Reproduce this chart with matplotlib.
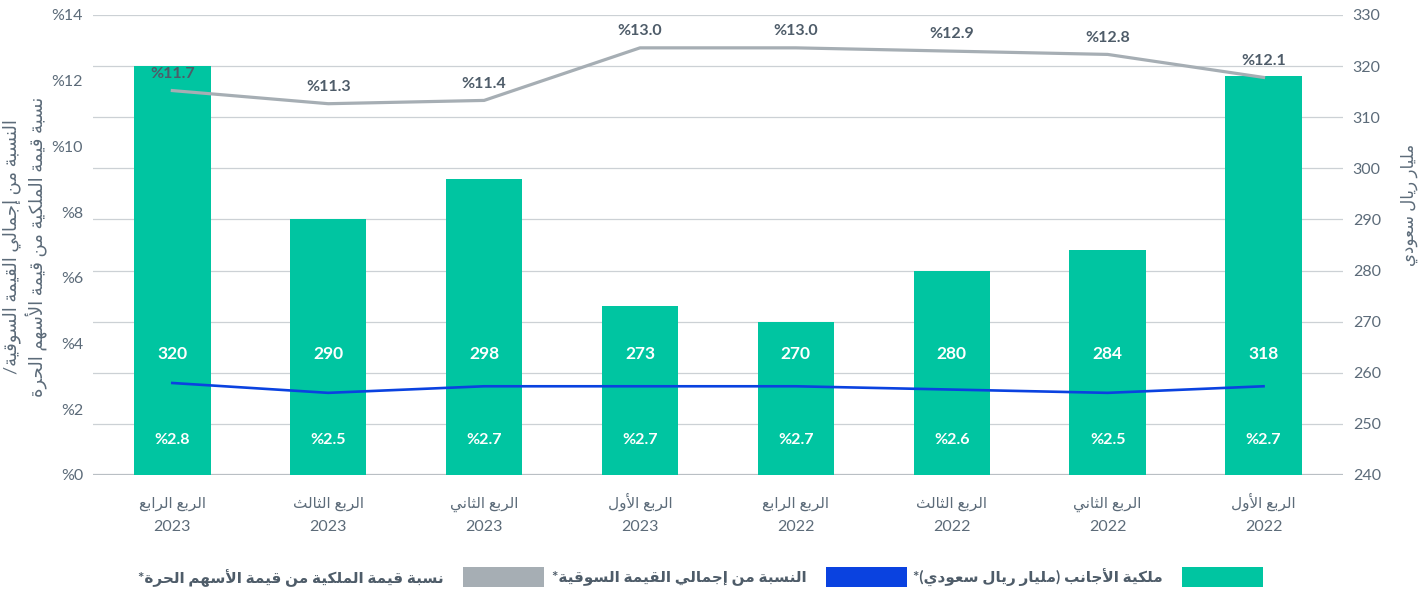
import unicodedata as ud

import matplotlib

matplotlib.use("Agg")
import matplotlib.pyplot as plt
from matplotlib.patches import Rectangle
from matplotlib.transforms import blended_transform_factory

plt.rcParams["font.family"] = ["Lato", "DejaVu Sans"]

# data, in the order shown from left to right
quarters = ["الربع الرابع", "الربع الثالث", "الربع الثاني", "الربع الأول",
            "الربع الرابع", "الربع الثالث", "الربع الثاني", "الربع الأول"]
years = ["2023", "2023", "2023", "2023", "2022", "2022", "2022", "2022"]
foreign_ownership = [320, 290, 298, 273, 270, 280, 284, 318]
pct_market_cap = [2.8, 2.5, 2.7, 2.7, 2.7, 2.6, 2.5, 2.7]
pct_free_float = [11.7, 11.3, 11.4, 13.0, 13.0, 12.9, 12.8, 12.1]

legend_labels = ["ملكية الأجانب (مليار ريال سعودي)*",
                 "النسبة من إجمالي القيمة السوقية*",
                 "نسبة قيمة الملكية من قيمة الأسهم الحرة*"]
left_label = "النسبة من إجمالي القيمة السوقية/\nنسبة قيمة الملكية من قيمة الأسهم الحرة"
right_label = "مليار ريال سعودي"

GREEN = "#00c5a1"
BLUE = "#0a42e0"
GREY = "#a6aeb4"
TEXT = "#5c6b79"
DARK = "#4e5c69"
GRID = "#ccd1d5"


# matplotlib has no arabic shaping, so pick presentation forms and reverse
def _forms(ch):
    try:
        name = ud.name(ch)
    except ValueError:
        return None
    if not name.startswith("ARABIC LETTER"):
        return None
    out = {}
    for k in ("ISOLATED", "FINAL", "INITIAL", "MEDIAL"):
        try:
            out[k] = ud.lookup(f"{name} {k} FORM")
        except KeyError:
            pass
    return out


def _dual(ch):
    f = _forms(ch) if ch else None
    return bool(f) and "INITIAL" in f


LAM_ALEF = {"ا": "LAM WITH ALEF", "أ": "LAM WITH ALEF WITH HAMZA ABOVE",
            "إ": "LAM WITH ALEF WITH HAMZA BELOW", "آ": "LAM WITH ALEF WITH MADDA ABOVE"}
MIRROR = {"(": ")", ")": "("}


def shape_line(s):
    out = []
    i = 0
    while i < len(s):
        c = s[i]
        prev = s[i - 1] if i > 0 else ""
        nxt = s[i + 1] if i + 1 < len(s) else ""
        jp = _dual(prev)
        if c == "ل" and nxt in LAM_ALEF:
            form = "FINAL" if jp else "ISOLATED"
            out.append(ud.lookup(f"ARABIC LIGATURE {LAM_ALEF[nxt]} {form} FORM"))
            i += 2
            continue
        f = _forms(c)
        if not f:
            out.append(MIRROR.get(c, c))
            i += 1
            continue
        jn = "INITIAL" in f and bool(_forms(nxt)) if nxt else False
        if jp and jn:
            key = "MEDIAL"
        elif jp:
            key = "FINAL"
        elif jn:
            key = "INITIAL"
        else:
            key = "ISOLATED"
        out.append(f.get(key, f.get("ISOLATED", c)))
        i += 1
    return "".join(reversed(out))


def shape(s):
    return "\n".join(shape_line(line) for line in s.split("\n"))


fig = plt.figure(figsize=(14.28, 5.95), dpi=100)
ax = fig.add_axes([0.065, 0.2017, 0.8755, 0.7731])
ax_pct = ax.twinx()

x = list(range(len(quarters)))

# bars on the right-hand axis
ax.bar(x, foreign_ownership, width=0.49, color=GREEN, zorder=2)
ax.set_ylim(240, 330)
ax.set_yticks(range(240, 331, 10))
ax.yaxis.tick_right()
ax.grid(axis="y", color=GRID, linewidth=0.9, zorder=0)
ax.set_axisbelow(True)
ax.tick_params(axis="y", length=0, pad=7, labelsize=11.5, labelcolor=TEXT,
               right=False, labelright=True, left=False, labelleft=False)
ax.axhline(240, color="#b9bfc4", linewidth=1.6, zorder=1)

ax.set_xlim(-0.51, 7.51)
ax.set_xticks(x)
ax.set_xticklabels([])
ax.tick_params(axis="x", length=0)

# category labels, two lines each, fixed baselines
trans = blended_transform_factory(ax.transData, ax.transAxes)
for xi, q, y in zip(x, quarters, years):
    ax.text(xi, -0.0717, shape(q), transform=trans, ha="center", va="baseline",
            fontsize=11, color=TEXT)
    ax.text(xi, -0.1217, y, transform=trans, ha="center", va="baseline",
            fontsize=11.5, color=TEXT)

# percentage lines on the left-hand axis
ax_pct.plot(x, pct_free_float, color=GREY, linewidth=2.3, zorder=3)
ax_pct.plot(x, pct_market_cap, color=BLUE, linewidth=1.9, zorder=3)
ax_pct.set_ylim(0, 14)
ax_pct.set_yticks(range(0, 15, 2))
ax_pct.set_yticklabels([f"%{v}" for v in range(0, 15, 2)])
ax_pct.yaxis.tick_left()
ax_pct.tick_params(axis="y", length=0, pad=7, labelsize=11.5, labelcolor=TEXT,
                   left=False, labelleft=True, right=False, labelright=False)

for a in (ax, ax_pct):
    for sp in a.spines.values():
        sp.set_visible(False)

for xi, v, p in zip(x, foreign_ownership, pct_market_cap):
    ax.text(xi, 0.262, f"{v}", transform=trans, ha="center", va="center",
            color="white", fontsize=12.5, fontweight="bold", zorder=4)
    ax.text(xi, 0.077, f"%{p}", transform=trans, ha="center", va="center",
            color="white", fontsize=11.5, fontweight="bold", zorder=4)

for xi, p in zip(x, pct_free_float):
    ax_pct.annotate(f"%{p:.1f}", (xi, p), xytext=(0, 12), textcoords="offset points",
                    ha="center", va="center", color=DARK, fontsize=11.5,
                    fontweight="bold", zorder=5)

# axis titles
fig.text(0.0175, 0.585, shape(left_label), rotation=90, ha="center", va="center",
         fontsize=13, color=TEXT, linespacing=1.25, multialignment="center")
fig.text(0.987, 0.655, shape(right_label), rotation=90, ha="center", va="center",
         fontsize=12, color=TEXT)

# legend, drawn right to left
W, H = 1428, 595
for label, color, left in zip(legend_labels, [GREEN, BLUE, GREY], [1182, 826, 463]):
    fig.add_artist(Rectangle((left / W, 1 - 587 / H), 81 / W, 20 / H,
                             transform=fig.transFigure, color=color, lw=0))
    fig.text((left - 19) / W, 1 - 578 / H, shape(label), ha="right", va="center",
             fontsize=11, fontweight="bold", color=DARK)

fig.savefig("out.png", dpi=100)
